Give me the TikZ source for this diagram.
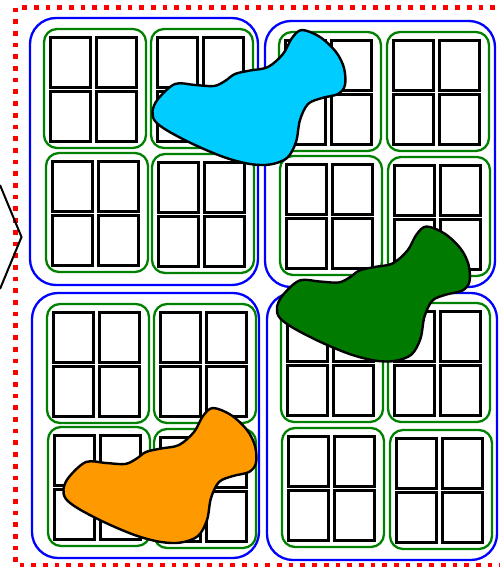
\documentclass[tikz,border=0pt]{standalone}
\usetikzlibrary{calc}
\definecolor{bluebox}{RGB}{0,0,255}
\definecolor{greenbox}{RGB}{0,128,0}
\definecolor{redframe}{RGB}{255,0,0}
\definecolor{blobcyan}{RGB}{0,204,255}
\definecolor{blobgreen}{RGB}{0,123,0}
\definecolor{bloborange}{RGB}{255,153,0}
\tikzset{
  frame/.style={draw=redframe, line width=4.7pt, dash pattern=on 4.7pt off 7pt},
  quad/.style={draw=bluebox, line width=2.3pt, rounded corners=26pt},
  cellbox/.style={draw=greenbox, line width=2.3pt, rounded corners=13pt},
  sq/.style={draw=black, line width=3pt},
  blob/.style={draw=black, line width=2.4pt, line join=round},
  chev/.style={draw=black, line width=2pt},
}
\newcommand{\mycell}[2]{%
  \draw[cellbox] (#1,#2) rectangle ++(102,119);
  \draw[sq] ($(#1,#2)+(6.5,8.5)$) rectangle ++(40,50);
  \draw[sq] ($(#1,#2)+(52,8.5)$) rectangle ++(40,50);
  \draw[sq] ($(#1,#2)+(6.5,62.5)$) rectangle ++(40,50);
  \draw[sq] ($(#1,#2)+(52,62.5)$) rectangle ++(40,50);
}
\newcommand{\blobpath}{plot[smooth cycle, tension=0.55] coordinates {
  (152.5,111) (158,99) (175,84) (195,85) (214,86) (225,81) (235,74) (250,70.5)
  (268,67) (283,54) (292,38) (302,30) (320,37) (336,52) (344,68) (345,85)
  (338,94) (322,98) (308,104) (300,120) (296,142) (287,158) (270,164.5)
  (250,164) (225,157.5) (195,145) (168,131) (155,121)}}
\begin{document}
\begin{tikzpicture}[x=1pt,y=-1pt]
\useasboundingbox (0,0) rectangle (499,568);
% outer frame
\draw[frame] (15.5,7.5) rectangle (505,565);
% chevron
\draw[chev] (0,185) -- (21.5,237) -- (0,289);
% quadrants
\draw[quad] (30,18) rectangle (258,285);
\draw[quad] (265,21) rectangle (495,287);
\draw[quad] (32,293) rectangle (259,558);
\draw[quad] (267,293) rectangle (497,560);
% cells
\mycell{44}{29}\mycell{151}{29}\mycell{46}{153}\mycell{152}{154}
\mycell{279}{32}\mycell{387}{32}\mycell{280}{156}\mycell{388}{157}
\mycell{47}{304}\mycell{154}{304}\mycell{48}{427}\mycell{154}{429}
\mycell{281}{303}\mycell{388}{303}\mycell{282}{428}\mycell{390}{430}
% blobs
\draw[blob, fill=blobcyan] \blobpath;
\begin{scope}[shift={(124.5,196.5)}]
\draw[blob, fill=blobgreen] \blobpath;
\end{scope}
\begin{scope}[shift={(-89,378)}]
\draw[blob, fill=bloborange] \blobpath;
\end{scope}
\end{tikzpicture}
\end{document}
